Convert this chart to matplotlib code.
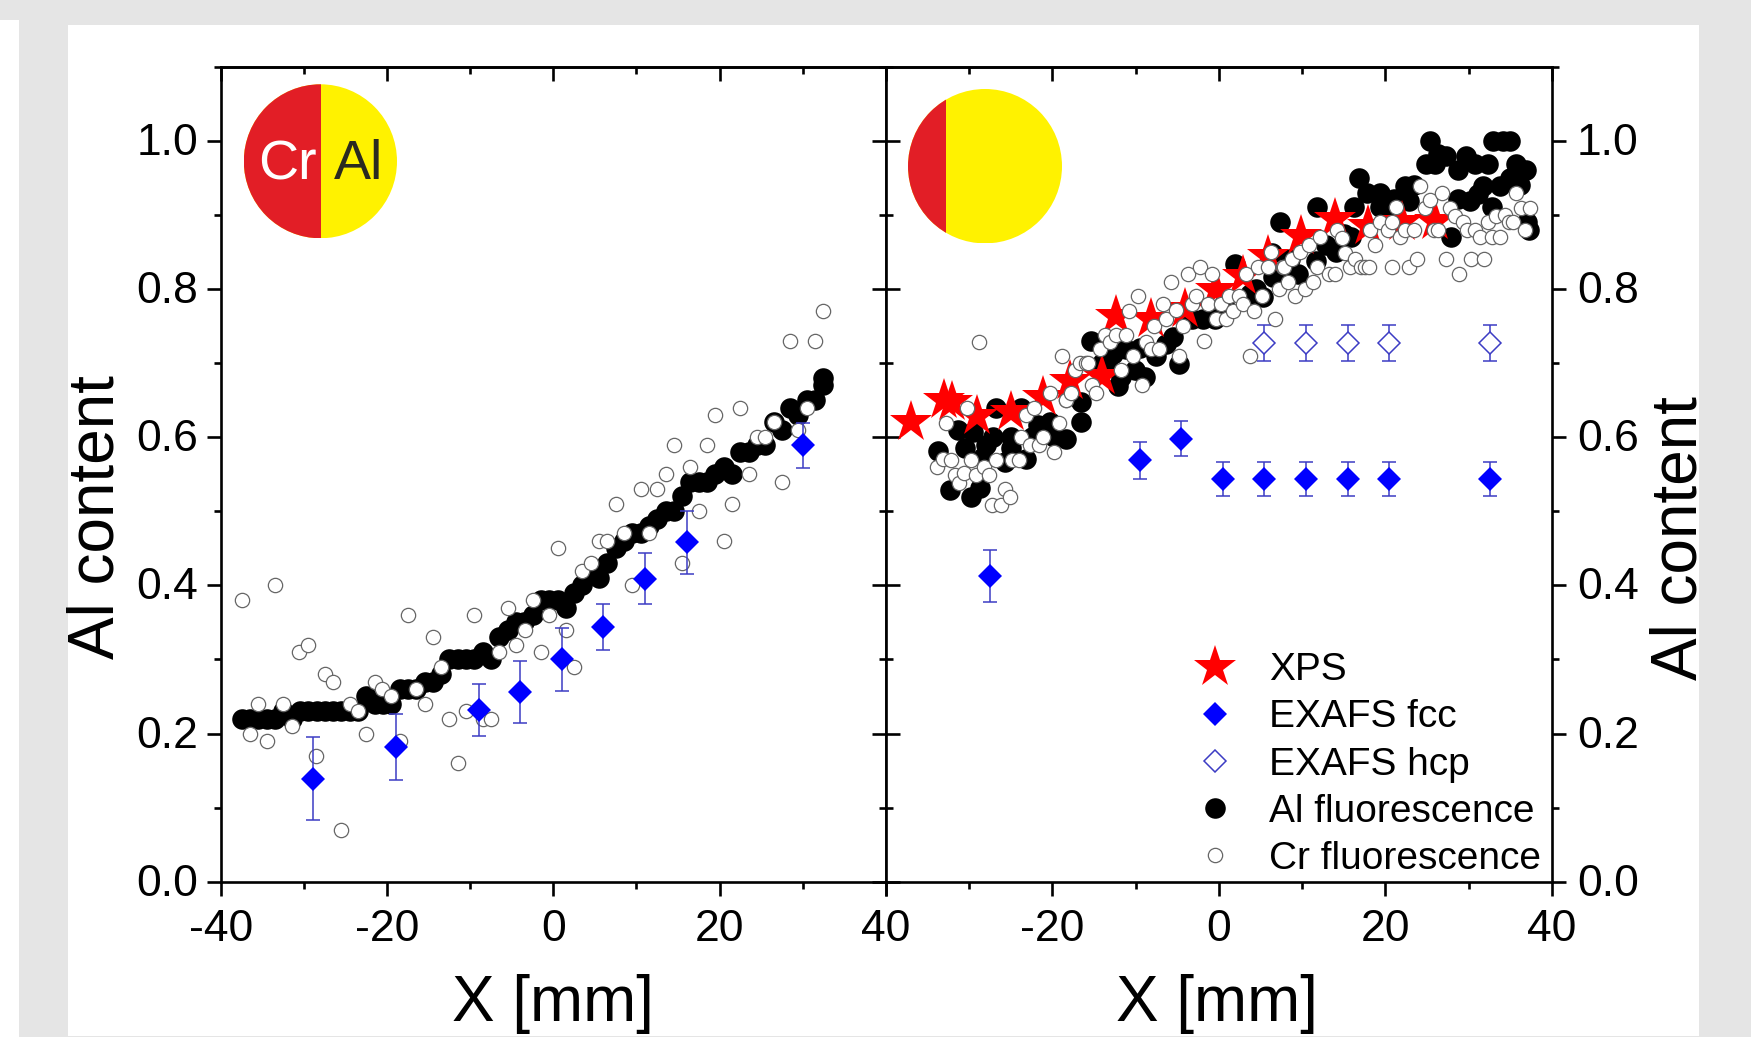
import matplotlib
matplotlib.use("Agg")
import matplotlib.pyplot as plt
from matplotlib.patches import Circle, Rectangle
from matplotlib.transforms import ScaledTranslation

plt.rcParams["font.family"] = ["Liberation Sans", "DejaVu Sans"]

W, H = 1751, 1037

# Left panel data
al_left_x = [-37.5, -36.5, -35.5, -34.5, -33.5, -32.5, -31.5, -30.5, -29.5, -28.5, -27.5, -26.5, -25.5, -24.5, -23.5,
             -22.5, -21.5, -20.5, -19.5, -18.5, -17.5, -16.5, -15.5, -14.5, -13.5, -12.5, -11.5, -10.5, -9.5, -8.5,
             -7.5, -6.5, -5.5, -4.5, -3.5, -2.5, -1.5, -0.5, 0.5, 1.5, 2.5, 3.5, 4.5, 5.5, 6.5, 7.5, 8.5, 9.5, 10.5,
             11.5, 12.5, 13.5, 14.5, 15.5, 16.5, 17.5, 18.5, 19.5, 20.5, 21.5, 22.5, 23.5, 24.5, 25.5, 26.5, 27.5,
             28.5, 29.5, 30.5, 31.5, 32.5]
al_left_y = [.22, .22, .22, .22, .22, .23, .22, .23, .23, .23, .23, .23, .23, .23, .23,
             .25, .24, .24, .24, .26, .26, .26, .27, .27, .28, .30, .30, .30, .30, .31,
             .30, .33, .34, .35, .35, .36, .38, .38, .38, .37, .39, .40, .42, .41, .43, .45, .46, .47, .47,
             .48, .49, .50, .50, .52, .54, .54, .54, .55, .56, .55, .58, .58, .59, .59, .62, .61,
             .64, .63, .65, .65, .67]
al_left_x = al_left_x + [32.5]
al_left_y = al_left_y + [.68]

cr_left_x = [-37.5, -36.5, -35.5, -34.5, -33.5, -32.5, -31.5, -30.6, -29.5, -28.6, -27.5, -26.5, -25.5, -24.5, -23.5,
             -22.5, -21.5, -20.6, -19.5, -18.5, -17.5, -16.5, -15.5, -14.5, -13.5, -12.5, -11.5, -10.5, -9.5, -8.5,
             -7.5, -6.5, -5.5, -4.5, -3.4, -2.5, -1.5, -0.5, 0.5, 1.5, 2.5, 3.5, 4.5, 5.5, 6.5, 7.5, 8.5, 9.5, 10.5,
             11.5, 12.5, 13.5, 14.5, 15.5, 16.5, 17.5, 18.5, 19.5, 20.5, 21.5, 22.5, 23.5, 24.5, 25.5, 26.5, 27.5,
             28.5, 29.5, 30.5, 31.5, 32.5]
cr_left_y = [.38, .20, .24, .19, .40, .24, .21, .31, .32, .17, .28, .27, .07, .24, .23,
             .20, .27, .26, .25, .19, .36, .26, .24, .33, .29, .22, .16, .23, .36, .22,
             .22, .31, .37, .32, .34, .38, .31, .36, .45, .34, .29, .42, .43, .46, .46, .51, .47, .40, .53,
             .47, .53, .55, .59, .43, .56, .50, .59, .63, .46, .51, .64, .55, .60, .60, .62, .54,
             .73, .61, .64, .73, .77]

fcc_left_x = [-28.95, -18.96, -8.97, -3.98, 1.0, 6.0, 11.06, 16.06, 30.04]
fcc_left_y = [.139, .182, .232, .256, .30, .344, .409, .458, .589]
fcc_left_err = [.056, .045, .035, .042, .043, .031, .034, .043, .03]

# Right panel data
xps_x = [-37, -33, -32, -29, -25, -21.1, -17.9, -14, -12.3, -8.2, -4.1, -0.3, 2.9, 5.9, 9.9, 14, 17.9, 22, 25.9]
xps_y = [.62, .65, .647, .629, .634, .654, .676, .683, .764, .76, .773, .798, .818, .845, .872, .895, .885, .89, .892]

fcc_right_x = [-27.5, -9.5, -4.55, 0.5, 5.45, 10.45, 15.45, 20.45, 32.5]
fcc_right_y = [.4126, .5686, .598, .543, .543, .543, .543, .543, .543]
fcc_right_err = [.035, .025, .024, .023, .023, .023, .023, .023, .023]

hcp_x = [5.45, 10.45, 15.45, 20.45, 32.5]
hcp_y = [.727, .727, .727, .727, .727]
hcp_err = [.024, .024, .024, .024, .024]

al_right_x = [-33.7, -32.3, -31.3, -30.5, -29.7, -29.5, -28.7, -28.3, -27.1, -26.7, -25.7, -24.9, -24.9, -23.7, -23.1,
              -21.7, -20.3, -19.8, -18.3, -16.5, -16.5, -15.3, -14, -12.7, -12.1, -11.7, -11.1, -10.1, -9.5, -8.9,
              -6.3, -5.5, -4.8, -1.9, -0.5, 1.9, 3.8, 4.5, 5.3, 6.4, 6.5, 7.8, 7.3, 9.5, 11.7, 11.76, 14.1, 15, 15.9,
              16.2, 16.77, 17.8, 19.4, 19.4, 21, 22.3, 22.8, 23.4, 24.9, 25.3, 25.9, 26.3, 27.3, 27.9, 28.7, 28.7,
              29.7, 30.1, 30.7, 31.1, 31.7, 32.3, 32.8, 32.9, 33.7, 34.1, 34.9, 34.9, 35.7, 36.1, 36.9, 37, 37.2,
              -27.9, -22.4, -13.4, -7.6, -3.2, 0.6, 8.6, 12.9, 20.2]
al_right_y = [.581, .529, .609, .586, .519, .607, .531, .573, .60, .64, .566, .585, .60, .64, .571,
              .616, .62, .60, .598, .647, .62, .73, .70, .712, .669, .681, .719, .69, .721, .681,
              .726, .735, .699, .76, .76, .834, .793, .80, .789, .849, .816, .825, .89, .82, .838, .911, .85, .874, .87,
              .91, .95, .93, .93, .91, .921, .939, .919, .94, .969, 1.0, .969, .982, .98, .87, .96, .921,
              .98, .919, .969, .928, .939, .969, .91, 1.0, .939, 1.0, 1.0, .95, .969, .94, .96, .89, .879,
              .59, .60, .70, .71, .76, .78, .84, .86, .91]

cr_right_x = [-33.8, -33.1, -32.7, -32.1, -31.7, -31.2, -30.6, -30.2, -29.7, -29.2, -28.8, -28.2, -27.6, -27.2, -26.7,
              -26.1, -25.7, -25.1, -24.8, -24, -23.7, -23.2, -22.7, -22.2, -21.6, -21.1, -20.3, -19.8, -19.2, -18.8,
              -18.3, -18.3, -17.7, -17.3, -16.7, -16, -15.7, -15.2, -14.7, -14.3, -13.7, -13.1, -12.3, -11.8, -11.1,
              -10.8, -10.3, -9.7, -9.2, -8.7, -8.2, -7.8, -7.2, -6.7, -6.3, -5.7, -5.2, -4.8, -4.3, -3.7, -3.2, -2.8,
              -2.3, -1.8, -1.3, -0.8, -0.3, 0.2, 0.8, 1.2, 1.7, 2.4, 2.9, 3.2, 3.7, 4.2, 4.7, 5.2, 5.9, 6.3, 6.7, 7.2,
              7.7, 7.8, 8.3, 8.8, 9.2, 9.8, 10.3, 10.8, 11.3, 11.8, 12.2, 13.2, 13.9, 14.2, 14.8, 15.2, 15.8, 16.4,
              17.1, 17.6, 18, 18.2, 18.8, 19.3, 20.3, 20.8, 20.8, 21.3, 21.8, 22.3, 22.8, 23.4, 23.8, 24.2, 24.8,
              25.3, 25.8, 26.3, 26.8, 27.3, 27.8, 28.3, 28.8, 29.3, 29.8, 30.3, 30.8, 31.3, 31.8, 32.3, 32.8, 33.3,
              33.8, 34.3, 34.8, 35.3, 35.7, 36.3, 36.8, 37.3]
cr_right_y = [.56, .57, .619, .569, .549, .538, .551, .64, .569, .549, .729, .56, .549, .509, .569,
              .509, .53, .519, .569, .569, .60, .63, .59, .64, .59, .60, .659, .58, .619, .709,
              .65, .65, .66, .69, .70, .70, .70, .67, .659, .719, .738, .729, .738, .69, .738,
              .77, .71, .79, .67, .729, .719, .75, .719, .78, .76, .81, .771, .71, .75, .82, .78, .79,
              .83, .73, .78, .82, .76, .78, .76, .79, .77, .79, .78, .82, .71, .77, .83, .79, .83, .85, .76, .80,
              .83, .829, .81, .84, .79, .85, .80, .86, .81, .829, .87, .82, .82, .88, .869, .849, .829, .84,
              .829, .829, .829, .88, .86, .89, .88, .89, .829, .91, .87, .88, .829, .88, .84, .939, .909,
              .92, .88, .88, .93, .84, .909, .899, .82, .89, .88, .84, .88, .87, .84, .89, .87, .899,
              .87, .90, .89, .89, .93, .909, .88, .909]

x_ticks = [-40, -20, 0, 20, 40]
y_ticks = [0.0, 0.2, 0.4, 0.6, 0.8, 1.0]
legend_labels = ["XPS", "EXAFS fcc", "EXAFS hcp", "Al fluorescence", "Cr fluorescence"]
cr_share = [0.505, 0.247]

# marker styles
al_style = dict(ls="none", marker="o", ms=14.8, mfc="black", mec="black", mew=0)
cr_style = dict(ls="none", marker="o", ms=10.3, mfc="white", mec="#666666", mew=0.9)
fcc_style = dict(ls="none", marker="D", ms=12.5, mfc="#0000ff", mec="#0000ff", mew=0)
hcp_style = dict(ls="none", marker="D", ms=11.5, mfc="white", mec="#3c3cc4", mew=1.1)
xps_style = dict(ls="none", marker="*", ms=32, mfc="#ff0000", mec="#ff0000", mew=0)
err_style = dict(fmt="none", ecolor="#3c3cc4", elinewidth=1.1, capsize=5, capthick=1.1)
lw = 1.9


def px_box(x0, y0, x1, y1):
    return [x0 / W, 1 - y1 / H, (x1 - x0) / W, (y1 - y0) / H]


def add_band(x0, y0, x1, y1):
    l, b, w, h = px_box(x0, y0, x1, y1)
    fig.add_artist(Rectangle((l, b), w, h, transform=fig.transFigure, fc="white", ec="none", zorder=-5))


def style_axes(ax, left_out, labels):
    ax.set_xlim(-40, 40)
    ax.set_ylim(0, 1.1)
    ax.set_xticks(x_ticks)
    ax.set_xticklabels(labels)
    ax.set_xticks([-30, -10, 10, 30], minor=True)
    ax.set_yticks(y_ticks)
    ax.set_yticks([0.1, 0.3, 0.5, 0.7, 0.9, 1.1], minor=True)
    for s in ax.spines.values():
        s.set_linewidth(lw)
    ax.tick_params(axis="x", which="both", bottom=True, top=False, direction="out", width=lw)
    ax.tick_params(axis="x", which="major", length=10, pad=10, labelsize=32)
    ax.tick_params(axis="x", which="minor", length=5)
    # second x axis only for the inward top ticks
    top = ax.secondary_xaxis("top")
    top.set_xticks(x_ticks)
    top.set_xticks([-30, -10, 10, 30], minor=True)
    top.tick_params(axis="x", which="both", direction="in", width=lw, labeltop=False)
    top.tick_params(axis="x", which="major", length=10)
    top.tick_params(axis="x", which="minor", length=5)
    top.spines["top"].set_linewidth(lw)
    if left_out:
        ax.tick_params(axis="y", which="both", left=True, right=False, labelleft=True, width=lw, direction="out")
        side = ax.secondary_yaxis("right")
        ax.tick_params(axis="y", which="major", length=10, pad=6.5, labelsize=32)
    else:
        ax.yaxis.tick_right()
        ax.tick_params(axis="y", which="both", left=False, right=True, labelright=True, width=lw, direction="out")
        side = ax.secondary_yaxis("left")
        ax.tick_params(axis="y", which="major", length=10, pad=8, labelsize=32)
    ax.tick_params(axis="y", which="minor", length=5)
    side.set_yticks(y_ticks)
    side.set_yticks([0.1, 0.3, 0.5, 0.7, 0.9, 1.1], minor=True)
    side.tick_params(axis="y", which="both", direction="in", width=lw, labelleft=False, labelright=False)
    side.tick_params(axis="y", which="major", length=10)
    side.tick_params(axis="y", which="minor", length=5)
    # the y tick labels sit a little above their ticks in the original
    lift = ScaledTranslation(0, 2 / 100, fig.dpi_scale_trans)
    for t in ax.yaxis.get_major_ticks():
        t.label1.set_transform(t.label1.get_transform() + lift)
        t.label2.set_transform(t.label2.get_transform() + lift)


def add_disc(box, share, with_text):
    ax = fig.add_axes(px_box(*box))
    ax.set_xlim(0, 1)
    ax.set_ylim(0, 1)
    ax.axis("off")
    disc = Circle((0.5, 0.5), 0.5, fc="#fff200", ec="none")
    ax.add_patch(disc)
    red = Rectangle((0, 0), share, 1, fc="#e21e26", ec="none")
    ax.add_patch(red)
    red.set_clip_path(disc)
    if with_text:
        ax.text(0.285, 0.475, "Cr", color="white", fontsize=40, ha="center", va="center")
        ax.text(0.75, 0.475, "Al", color="#2a2a20", fontsize=40, ha="center", va="center")


fig = plt.figure(figsize=(W / 100, H / 100), dpi=100, facecolor="#e5e5e5")
add_band(0, 20, 19, 1037)
add_band(68, 25, 1699, 1036)

ax1 = fig.add_axes(px_box(221, 66.7, 885.7, 881.7))
ax2 = fig.add_axes(px_box(885.7, 66.7, 1552, 881.7))
style_axes(ax1, True, ["-40", "-20", "0", "20", "40"])
style_axes(ax2, False, ["", "-20", "0", "20", "40"])

# left panel
ax1.plot(al_left_x, al_left_y, zorder=2, **al_style)
ax1.plot(cr_left_x, cr_left_y, zorder=3, **cr_style)
ax1.errorbar(fcc_left_x, fcc_left_y, yerr=fcc_left_err, zorder=4, **err_style)
ax1.plot(fcc_left_x, fcc_left_y, zorder=5, **fcc_style)

# right panel
h_al, = ax2.plot(al_right_x, al_right_y, zorder=2, **al_style)
h_xps, = ax2.plot(xps_x, xps_y, zorder=3, **xps_style)
h_cr, = ax2.plot(cr_right_x, cr_right_y, zorder=4, **cr_style)
ax2.errorbar(fcc_right_x, fcc_right_y, yerr=fcc_right_err, zorder=5, **err_style)
h_fcc, = ax2.plot(fcc_right_x, fcc_right_y, zorder=6, **fcc_style)
ax2.errorbar(hcp_x, hcp_y, yerr=hcp_err, zorder=5, **err_style)
h_hcp, = ax2.plot(hcp_x, hcp_y, zorder=6, **hcp_style)

ax2.legend([h_xps, h_fcc, h_hcp, h_al, h_cr], legend_labels, loc="lower right",
           bbox_to_anchor=(1.001, -0.0083), frameon=False, fontsize=28, numpoints=1,
           labelspacing=0.286, handletextpad=0.59, handlelength=1.6, borderaxespad=0.1, borderpad=0.2)

add_disc((243.8, 84.3, 397, 238.3), cr_share[0], True)
add_disc((908, 89, 1062, 243.4), cr_share[1], False)

fig.text(553 / W, 1 - 1004 / H, "X [mm]", fontsize=46, ha="center", va="center")
fig.text(1217 / W, 1 - 1004 / H, "X [mm]", fontsize=46, ha="center", va="center")
fig.text(96 / W, 1 - 517 / H, "Al content", fontsize=46, rotation=90, ha="center", va="center")
fig.text(1679 / W, 1 - 538 / H, "Al content", fontsize=46, rotation=90, ha="center", va="center")

fig.savefig("out.png", dpi=100, facecolor=fig.get_facecolor())
